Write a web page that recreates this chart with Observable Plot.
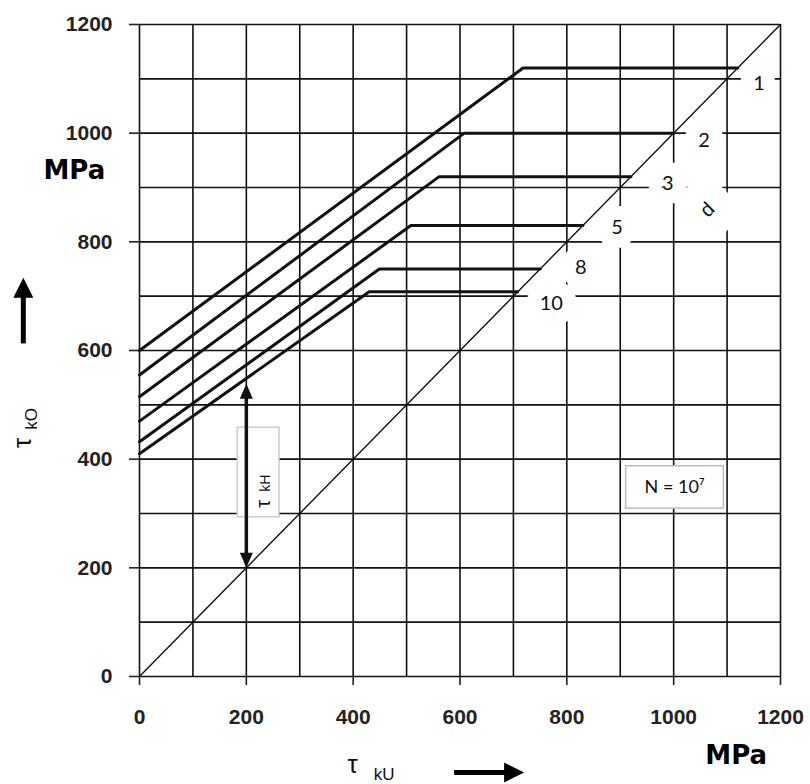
<!DOCTYPE html>
<html><head><meta charset="utf-8">
<script src="https://cdn.jsdelivr.net/npm/d3@7"></script>
<script src="https://cdn.jsdelivr.net/npm/@observablehq/plot@0.6"></script>
<style>
body{margin:0;background:#fff}
#chart svg{display:block}
#chart g[aria-label="x-axis tick label"] text, #chart g[aria-label="y-axis tick label"] text{font-weight:700}
</style>
</head><body><div id="chart"></div>
<script>
// grid and ticks (MPa)
const gridValues = [0,100,200,300,400,500,600,700,800,900,1000,1100,1200];
const tickValues = [0,200,400,600,800,1000,1200];
// curves: wire diameter d (mm)
const diameters = ["1","2","3","5","8","10"];
const tauStart = [600,555,515,470,432,410];   // τkO at τkU = 0
const kneeU    = [718,608,561,508,449,430];   // τkU at knee
const kneeO    = [1120,1000,920,830,750,708]; // τkO plateau (ends on diagonal)
const labelU   = [1160,1057,989,894,826,771];
const labelO   = [1091,987,908,826,753,687];
const diagonal = [0,1200];
// annotations
const dLabel = [{u:1063,o:859,text:"d"}];
const nBox = [{u1:911,u2:1094,o1:309,o2:387}];
const nText = [{u:1002,o:348,text:"N = 10⁷"}];
const kHBox = [{u1:184,u2:262,o1:293,o2:458}];
const kHArrow = [{u:200, lo:200, hi:539, loS:222, hiS:517}];
const kHText = [{u:233,o:318,text:"τ"}];
const kHSub = [{u:236,o:356,text:"kH"}];
const yArrow = [{u:-217.5, o1:613, o2:734, oS:705}];
const xArrow = [{o:-176.7, u1:589, u2:720, uS:690}];
const yTitle = [{u:-219,o:430,text:"τ"}];
const ySub = [{u:-203,o:474,text:"kO"}];
const xTitle = [{u:399,o:-163,text:"τ"}];
const xSub = [{u:458,o:-180,text:"kU"}];
const unitY = [{u:-122,o:931,text:"MPa"}];
const unitX = [{u:1117,o:-145,text:"MPa"}];

const curves = diameters.flatMap((d,i) => [
  {d, u:0, o:tauStart[i]},
  {d, u:kneeU[i], o:kneeO[i]},
  {d, u:kneeO[i], o:kneeO[i]}
]);
const labels = diameters.map((d,i) => ({d, u:labelU[i], o:labelO[i]}));
const diag = diagonal.map(v => ({u:v, o:v}));

const head = (len, wid, angle) => ({draw(ctx){
  const a = angle*Math.PI/180;
  const pts = [[0,0],[-wid/2,len],[wid/2,len]].map(([x,y]) => [x*Math.cos(a)-y*Math.sin(a), x*Math.sin(a)+y*Math.cos(a)]);
  ctx.moveTo(pts[0][0],pts[0][1]); ctx.lineTo(pts[1][0],pts[1][1]); ctx.lineTo(pts[2][0],pts[2][1]); ctx.closePath();
}});

const font = "Liberation Sans, Arial, sans-serif";
const chart = Plot.plot({
  width: 810, height: 784,
  marginLeft: 139, marginRight: 30, marginTop: 24, marginBottom: 108,
  style: {fontFamily: font, background: "white", overflow: "visible"},
  x: {domain: [0,1200]},
  y: {domain: [0,1200]},
  marks: [
    Plot.ruleX(gridValues, {stroke: "#111", strokeWidth: 1.6}),
    Plot.ruleY(gridValues, {stroke: "#111", strokeWidth: 1.6}),
    Plot.axisX(tickValues, {tickSize: 9, tickPadding: 24, fontSize: 21, color: "#222", label: null, strokeWidth: 1.6, tickFormat: "d"}),
    Plot.axisY(tickValues, {tickSize: 10, tickPadding: 17, fontSize: 21, color: "#222", label: null, strokeWidth: 1.6, tickFormat: "d"}),
    // white label halos
    Plot.text(labels, {x:"u", y:"o", text:"d", fontSize: 20, fontFamily: "Lato, sans-serif", fill:"white", stroke:"white", strokeWidth: 28}),
    Plot.text(dLabel, {x:"u", y:"o", text:"text", fontSize: 20, rotate: -45, fill:"white", stroke:"white", strokeWidth: 44}),
    Plot.rect(nBox, {x1:"u1", x2:"u2", y1:"o1", y2:"o2", fill:"white", stroke:"#bbb", strokeWidth: 1.5}),
    Plot.rect(kHBox, {x1:"u1", x2:"u2", y1:"o1", y2:"o2", fill:"white", stroke:"#ccc", strokeWidth: 1.5}),
    // diagonal and curves
    Plot.line(diag, {x:"u", y:"o", stroke:"#111", strokeWidth: 1.4}),
    Plot.line(curves, {x:"u", y:"o", z:"d", stroke:"#111", strokeWidth: 3}),
    // labels
    Plot.text(labels, {x:"u", y:"o", text:"d", fontSize: 20, fontFamily: "Lato, sans-serif", fill:"#111"}),
    Plot.text(dLabel, {x:"u", y:"o", text:"text", fontSize: 20, rotate: -45, fill:"#111"}),
    Plot.text(nText, {x:"u", y:"o", text:"text", fontSize: 18, fontFamily: "Lato, sans-serif", fill:"#111"}),
    // τkH arrow
    Plot.link(kHArrow, {x1:"u", x2:"u", y1:"loS", y2:"hiS", stroke:"#111", strokeWidth: 3.5}),
    Plot.dot(kHArrow, {x:"u", y:"hi", r: 1, symbol: head(15,13,0), fill:"#111", stroke: null}),
    Plot.dot(kHArrow, {x:"u", y:"lo", r: 1, symbol: head(15,13,180), fill:"#111", stroke: null}),
    Plot.text(kHText, {x:"u", y:"o", text:"text", fontSize: 20, rotate: -90, fill:"#111"}),
    Plot.text(kHSub, {x:"u", y:"o", text:"text", fontSize: 14, rotate: -90, fill:"#111"}),
    // axis titles and arrows
    Plot.link(yArrow, {x1:"u", x2:"u", y1:"o1", y2:"oS", stroke:"#000", strokeWidth: 5}),
    Plot.dot(yArrow, {x:"u", y:"o2", r: 1, symbol: head(20,20,0), fill:"#000", stroke: null}),
    Plot.link(xArrow, {x1:"u1", x2:"uS", y1:"o", y2:"o", stroke:"#000", strokeWidth: 5}),
    Plot.dot(xArrow, {x:"u2", y:"o", r: 1, symbol: head(20,20,90), fill:"#000", stroke: null}),
    Plot.text(yTitle, {x:"u", y:"o", text:"text", fontSize: 26, rotate: -90, fill:"#111"}),
    Plot.text(ySub, {x:"u", y:"o", text:"text", fontSize: 17, rotate: -90, fill:"#111"}),
    Plot.text(xTitle, {x:"u", y:"o", text:"text", fontSize: 26, fill:"#111"}),
    Plot.text(xSub, {x:"u", y:"o", text:"text", fontSize: 17, fill:"#111"}),
    Plot.text(unitY, {x:"u", y:"o", text:"text", fontSize: 26, fontWeight: 900, fontFamily: "DejaVu Sans, sans-serif", fill:"#000"}),
    Plot.text(unitX, {x:"u", y:"o", text:"text", fontSize: 26, fontWeight: 900, fontFamily: "DejaVu Sans, sans-serif", fill:"#000"})
  ]
});
document.getElementById("chart").append(chart);
</script>
</body></html>
